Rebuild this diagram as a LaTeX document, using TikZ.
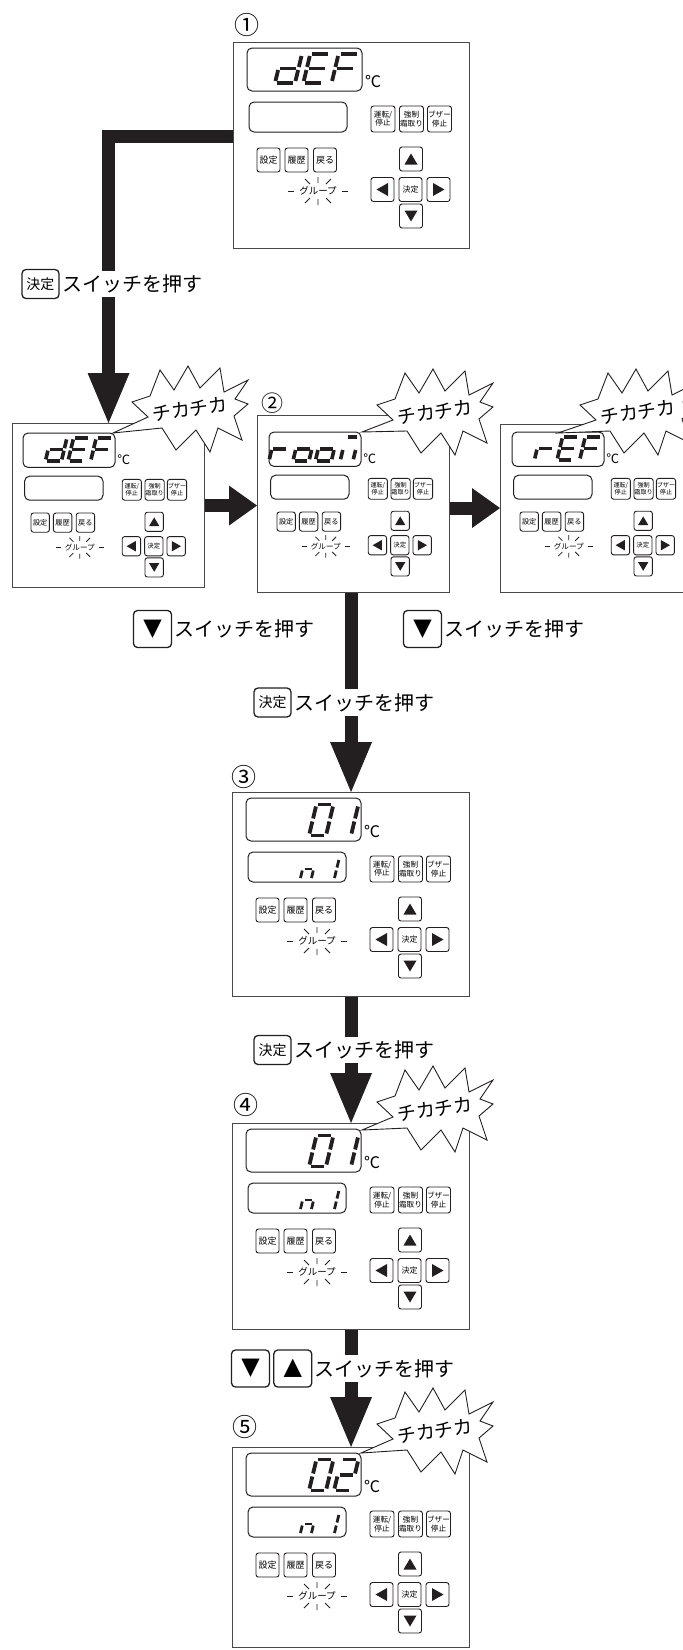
\documentclass[tikz,border=0pt]{standalone}
\usepackage{fontspec}
\newfontfamily\jp{Noto Sans CJK JP}
\newfontfamily\symb{DejaVu Sans}
\usetikzlibrary{arrows.meta, positioning, calc}
\definecolor{Ink}{RGB}{35, 31, 32}
\definecolor{Frame}{RGB}{72, 72, 72}

%% one seven-segment cell: bottom-left x, y, width, height, stroke, segments (1=a ... 7=g)
\newcommand{\segdigit}[6]{%
  \begin{scope}[shift={(#1,#2)}, xslant=0.24]
    \foreach \s in {#6}{%
      \ifcase\s\relax
      \or \draw[seg, line width=#5] (2,-#4) -- (#3-2,-#4);
      \or \draw[seg, line width=#5] (#3,-#4+2) -- (#3,-#4/2-1.5);
      \or \draw[seg, line width=#5] (#3,-#4/2+1.5) -- (#3,-2);
      \or \draw[seg, line width=#5] (2,0) -- (#3-2,0);
      \or \draw[seg, line width=#5] (0,-#4/2+1.5) -- (0,-2);
      \or \draw[seg, line width=#5] (0,-#4+2) -- (0,-#4/2-1.5);
      \or \draw[seg, line width=#5] (2,-#4/2) -- (#3-2,-#4/2);
      \fi}
  \end{scope}}

%% controller face, local units = full-size panel
\newcommand{\panelface}[1]{%
  \draw[lcd] (14,6) rectangle (129,49);
  \node[degc] (#1-deg) at (140,39) {℃};
  \draw[lcd] (16,60) rectangle (114,90);
  \node[smallkey] (#1-run) at (150,77)   {運転/\\停止};
  \node[smallkey] (#1-def) at (178.5,77) {強制\\霜取り};
  \node[smallkey] (#1-buz) at (206.5,77) {ブザー\\停止};
  \node[menukey] (#1-set)  at (35.5,118) {設定};
  \node[menukey] (#1-hist) at (63.5,118) {履歴};
  \node[menukey] (#1-back) at (92,118)   {戻る};
  \node[grouptext] (#1-grp) at (85,149)  {グループ};
  \draw[rays] (55,149) -- (61,149) (109,149) -- (115,149);
  \draw[rays] (72,137) -- (77,142) (85,135) -- (85,141) (98,137) -- (93,142)
              (72,161) -- (77,156) (85,157) -- (85,163) (98,161) -- (93,156);
  \node[padkey] (#1-up)    at (178,117)     {};
  \node[padkey] (#1-left)  at (149.5,147.5) {};
  \node[padkey] (#1-ok)    at (177.5,147.5) {決定};
  \node[padkey] (#1-right) at (205.5,147.5) {};
  \node[padkey] (#1-down)  at (178,174)     {};
  \fill[Ink] (171.5,122.5) -- (184.5,122.5) -- (178,111.5) -- cycle;
  \fill[Ink] (171.5,168.5) -- (184.5,168.5) -- (178,179.5) -- cycle;
  \fill[Ink] (155,141) -- (155,154) -- (143.5,147.5) -- cycle;
  \fill[Ink] (200,141) -- (200,154) -- (211.5,147.5) -- cycle;
}

%% blinking callout: name, centre, tip coordinate
\newcommand{\chikachika}[3]{%
  \begin{scope}[shift={#2}]
    \coordinate (#1) at (0,0);
    \draw[burst] (58,-6) -- (44,6) -- (52,30) -- (28,18) -- (20,42) -- (6,20)
      -- (-14,40) -- (-28,18) -- (#3) -- (-42,7) -- (-58,-8) -- (-40,-14)
      -- (-30,-40) -- (-16,-20) -- (-2,-44) -- (10,-22) -- (30,-42) -- (34,-18)
      -- (58,-30) -- (45,-11) -- cycle;
    \node[blinktext] (#1-txt) at (0,-1) {チカチカ};
  \end{scope}}

\begin{document}
\begin{tikzpicture}[
  x=1pt, y=-1pt,
  every node/.style={font=\jp},
  panelbox/.style={draw=Frame, line width=1.1pt, fill=white, inner sep=0pt, anchor=north west},
  lcd/.style={draw=Ink, line width=1pt, rounded corners=5pt},
  smallkey/.style={draw=Ink, line width=0.9pt, rounded corners=2.5pt, inner sep=0pt,
                   align=center, minimum width=24pt, minimum height=26pt,
                   font=\jp\fontsize{7.6}{8.2}\selectfont},
  menukey/.style={smallkey, minimum width=23pt, minimum height=24pt,
                  font=\jp\fontsize{9}{9}\selectfont},
  padkey/.style={menukey, font=\jp\fontsize{8}{8}\selectfont},
  degc/.style={inner sep=0pt, font=\jp\fontsize{16}{16}\selectfont},
  grouptext/.style={inner sep=0pt, font=\jp\fontsize{9.5}{10}\selectfont},
  rays/.style={draw=Ink, line width=0.8pt},
  seg/.style={draw=Ink, line cap=butt},
  bigarrow/.style={draw=Ink, line width=13pt, line join=miter,
                   -{Triangle[width=42pt, length=50pt, line width=0pt]}},
  sidearrow/.style={draw=Ink, line width=13pt,
                    -{Triangle[width=40pt, length=28pt, line width=0pt]}},
  burst/.style={draw=Ink, line width=0.9pt, fill=white, line join=miter},
  blinktext/.style={rotate=8, inner sep=0pt, font=\jp\fontsize{19}{19}\selectfont},
  stepno/.style={inner sep=0pt, font=\jp\fontsize{25}{25}\selectfont},
  keycap/.style={draw=Ink, line width=1.3pt, rounded corners=4pt, inner sep=0pt, fill=white,
                 minimum width=37pt, minimum height=29pt, font=\jp\fontsize{14}{14}\selectfont},
  arrowcap/.style={keycap, minimum width=38pt, minimum height=37pt,
                   font=\symb\fontsize{24}{24}\selectfont},
  presstext/.style={fill=white, inner xsep=1pt, inner ysep=4pt,
                    font=\jp\fontsize{20}{20}\selectfont}
]
  \clip (0,0) rectangle (683,1650);

  %% Panel frames
  \node[panelbox, minimum width=236pt, minimum height=206pt] (p1) at (233,42)   {};
  \node[panelbox, minimum width=192pt, minimum height=164pt] (pL) at (12,423)   {};
  \node[panelbox, minimum width=192pt, minimum height=177pt] (p2) at (257,415)  {};
  \node[panelbox, minimum width=200pt, minimum height=168pt] (pR) at (500,424)  {};
  \node[panelbox, minimum width=237pt, minimum height=204pt] (p3) at (232,792)  {};
  \node[panelbox, minimum width=237pt, minimum height=206pt] (p4) at (232,1123) {};
  \node[panelbox, minimum width=237pt, minimum height=200pt] (p5) at (232,1447) {};

  %% Step numbers
  \node[stepno] (n1) at (247,25)   {①};
  \node[stepno, font=\jp\fontsize{22}{22}\selectfont] (n2) at (272,403) {②};
  \node[stepno] (n3) at (244,777)  {③};
  \node[stepno] (n4) at (246,1105) {④};
  \node[stepno] (n5) at (245,1427) {⑤};

  %% Panel faces
  \begin{scope}[shift={(233,42)}]
    \panelface{p1}
    \segdigit{42}{41}{20}{29}{3.8pt}{2,3,4,5,7}
    \segdigit{70.3}{41}{20}{29}{3.8pt}{1,4,5,6,7}
    \segdigit{98.6}{41}{20}{29}{3.8pt}{1,5,6,7}
  \end{scope}
  \begin{scope}[shift={(11.8,428.2)}, scale=0.8, transform shape]
    \panelface{pL}
    \segdigit{42}{41}{20}{29}{3.6pt}{2,3,4,5,7}
    \segdigit{70.3}{41}{20}{29}{3.6pt}{1,4,5,6,7}
    \segdigit{98.6}{41}{20}{29}{3.6pt}{1,5,6,7}
  \end{scope}
  \begin{scope}[shift={(257.8,427.2)}, scale=0.8, transform shape]
    \panelface{p2}
    \segdigit{14}{42}{20}{30}{3.6pt}{5,7}
    \segdigit{44}{42}{20}{30}{3.6pt}{3,4,5,7}
    \segdigit{72}{42}{20}{30}{3.6pt}{3,4,5,7}
    \segdigit{103}{42}{16}{30}{3.6pt}{1,3,5}
  \end{scope}
  \begin{scope}[shift={(500.8,427.2)}, scale=0.8, transform shape]
    \panelface{pR}
    \segdigit{42}{41}{20}{29}{3.6pt}{5,7}
    \segdigit{70.3}{41}{20}{29}{3.6pt}{1,4,5,6,7}
    \segdigit{98.6}{41}{20}{29}{3.6pt}{1,5,6,7}
  \end{scope}
  \begin{scope}[shift={(232,792)}]
    \panelface{p3}
    \segdigit{77}{43.5}{17}{31}{3.8pt}{1,2,3,4,5,6}
    \segdigit{102}{43.5}{17}{31}{3.8pt}{2,3}
    \segdigit{68}{88}{11}{22}{2.8pt}{3,5,7}
    \segdigit{91}{88}{11}{22}{2.8pt}{2,3}
  \end{scope}
  \begin{scope}[shift={(232,1123)}]
    \panelface{p4}
    \segdigit{77}{43.5}{17}{31}{3.8pt}{1,2,3,4,5,6}
    \segdigit{102}{43.5}{17}{31}{3.8pt}{2,3}
    \segdigit{68}{88}{11}{22}{2.8pt}{3,5,7}
    \segdigit{91}{88}{11}{22}{2.8pt}{2,3}
  \end{scope}
  \begin{scope}[shift={(232,1447)}]
    \panelface{p5}
    \segdigit{77}{43.5}{17}{31}{3.8pt}{1,2,3,4,5,6}
    \segdigit{102}{43.5}{17}{31}{3.8pt}{1,2,4,5,7}
    \segdigit{68}{88}{11}{22}{2.8pt}{3,5,7}
    \segdigit{91}{88}{11}{22}{2.8pt}{2,3}
  \end{scope}

  %% Arrows
  \draw[bigarrow]  ([yshift=9pt]p1.west) -| (pL.north);
  \draw[sidearrow] (pL.east) -- (pL.east -| p2.west);
  \draw[sidearrow] ([yshift=-4pt]p2.east) -- ([yshift=-4pt]p2.east -| pR.west);
  \draw[bigarrow]  (p3.north |- p2.south) -- (p3.north);
  \draw[bigarrow]  (p3.south) -- (p4.north);
  \draw[bigarrow]  (p4.south) -- (p5.north);

  %% Key hints
  \node[keycap] (k1) at (40.5,284) {決定};
  \node[presstext, right=2pt of k1] (t1) {スイッチを押す};
  \node[arrowcap] (k2) at (152.5,629) {▼};
  \node[presstext, right=1pt of k2] (t2) {スイッチを押す};
  \node[arrowcap] (k3) at (422.5,629) {▼};
  \node[presstext, right=1pt of k3] (t3) {スイッチを押す};
  \node[keycap] (k4) at (272.5,702.5) {決定};
  \node[presstext, right=2pt of k4] (t4) {スイッチを押す};
  \node[keycap] (k5) at (272.5,1050) {決定};
  \node[presstext, right=2pt of k5] (t5) {スイッチを押す};
  \node[arrowcap] (k6) at (250.5,1368.5) {▼};
  \node[arrowcap, right=3pt of k6] (k7) {▲};
  \node[presstext, right=1pt of k7] (t6) {スイッチを押す};

  %% Blinking callouts
  \coordinate (tipL) at (113,433);
  \coordinate (tip2) at (362,432);
  \coordinate (tipR) at (558,433);
  \coordinate (tip4) at (362,1130);
  \coordinate (tip5) at (361,1453);
  \chikachika{bL}{(190,410)}{tipL}
  \chikachika{b2}{(435,413)}{tip2}
  \chikachika{bR}{(638,413)}{tipR}
  \chikachika{b4}{(435,1110)}{tip4}
  \chikachika{b5}{(435,1432)}{tip5}
\end{tikzpicture}
\end{document}
